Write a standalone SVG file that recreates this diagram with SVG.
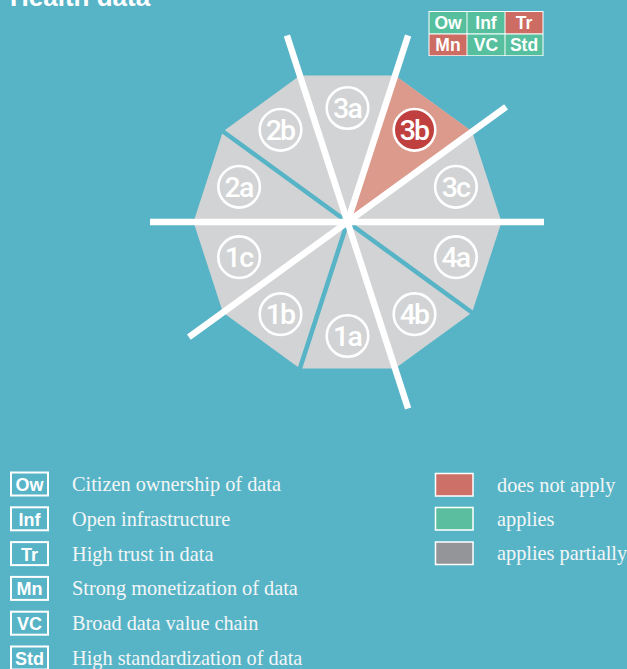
<svg xmlns="http://www.w3.org/2000/svg" width="627" height="669" viewBox="0 0 627 669">
<style>
.title{font-family:"Liberation Sans",Arial,sans-serif;font-weight:bold;font-size:26px;fill:#fff}
.lbl{font-family:Roboto,"Liberation Sans",sans-serif;font-weight:500;font-size:28.5px;fill:#fff;text-anchor:middle;letter-spacing:-1.8px}
.ring{fill:none;stroke:#fff;stroke-width:2.6}
.code{font-family:"Liberation Sans",Arial,sans-serif;font-weight:bold;font-size:17.5px;fill:#fff;text-anchor:middle}
.code2{font-family:"Liberation Sans",Arial,sans-serif;font-weight:bold;font-size:18px;fill:#fff;text-anchor:middle}
.desc{font-family:"Liberation Serif","Times New Roman",serif;font-size:20.3px;fill:#f4f6f6}
.kbox{fill:none;stroke:#fff;stroke-width:2}
.sw{stroke:#fff;stroke-width:1.5}
.wl{stroke:#fff;stroke-width:6.5;fill:none}
.gap{stroke:#57b4c7;stroke-width:4.5;fill:none}
</style>
<rect x="0" y="0" width="627" height="669" fill="#57b4c7"/>
<text class="title" x="10" y="6">Health data</text>

<g id="summary">
<rect x="428.5" y="11" width="115" height="45" fill="#fff"/>
<rect x="429.5" y="12" width="37" height="21.3" fill="#55bf9e"/>
<rect x="467.5" y="12" width="37" height="21.3" fill="#55bf9e"/>
<rect x="505.5" y="12" width="37" height="21.3" fill="#cd6c63"/>
<rect x="429.5" y="34.5" width="37" height="20.8" fill="#cd6c63"/>
<rect x="467.5" y="34.5" width="37" height="20.8" fill="#55bf9e"/>
<rect x="505.5" y="34.5" width="37" height="20.8" fill="#55bf9e"/>
<text class="code" x="448" y="28.5">Ow</text>
<text class="code" x="486" y="28.5">Inf</text>
<text class="code" x="524" y="28.5">Tr</text>
<text class="code" x="448" y="51.3">Mn</text>
<text class="code" x="486" y="51.3">VC</text>
<text class="code" x="524" y="51.3">Std</text>
</g>

<g id="wheel">
<polygon points="501.5,222 472.09,131.48 395.09,75.54 299.91,75.54 222.91,131.48 193.5,222 222.91,312.52 299.91,368.46 395.09,368.46 472.09,312.52" fill="#d1d3d4"/>
<polygon id="wedge-3b" points="347.5,222 472.09,131.48 395.09,75.54" fill="#dc9a8c"/>
</g>

<g id="connectors">
<line class="gap" x1="347.5" y1="222" x2="221.3" y2="130.3"/>
<line class="gap" x1="347.5" y1="222" x2="299.3" y2="370.3"/>
<line class="gap" x1="347.5" y1="222" x2="473.7" y2="313.7"/>
<line class="wl" x1="150" y1="222" x2="544" y2="222"/>
<line class="wl" x1="188.9" y1="337.2" x2="506.1" y2="106.8"/>
<line class="wl" x1="286.9" y1="35.6" x2="408.1" y2="408.4"/>
<line class="wl" x1="347.5" y1="222" x2="408.1" y2="35.6"/>
</g>

<g id="n3c"><circle class="ring" cx="455.9" cy="186.8" r="20.8"/><text class="lbl" x="455.4" y="196.5">3c</text></g>
<g id="n3b"><circle cx="414.5" cy="129.8" r="20.8" fill="#bf403e" stroke="#fff" stroke-width="2.6"/><text class="lbl" x="414" y="139.5">3b</text></g>
<g id="n3a"><circle class="ring" cx="347.5" cy="108" r="20.8"/><text class="lbl" x="347" y="117.5">3a</text></g>
<g id="n2b"><circle class="ring" cx="280.5" cy="129.8" r="20.8"/><text class="lbl" x="280" y="139.5">2b</text></g>
<g id="n2a"><circle class="ring" cx="239.1" cy="186.8" r="20.8"/><text class="lbl" x="238.6" y="196.5">2a</text></g>
<g id="n1c"><circle class="ring" cx="239.1" cy="257.2" r="20.8"/><text class="lbl" x="238.6" y="266.9">1c</text></g>
<g id="n1b"><circle class="ring" cx="280.5" cy="314.2" r="20.8"/><text class="lbl" x="280" y="323.9">1b</text></g>
<g id="n1a"><circle class="ring" cx="347.5" cy="336" r="20.8"/><text class="lbl" x="347" y="345.7">1a</text></g>
<g id="n4b"><circle class="ring" cx="414.5" cy="314.2" r="20.8"/><text class="lbl" x="414" y="323.9">4b</text></g>
<g id="n4a"><circle class="ring" cx="455.9" cy="257.2" r="20.8"/><text class="lbl" x="455.4" y="266.9">4a</text></g>

<g id="legend-criteria">
<rect class="kbox" x="11" y="472.5" width="37" height="23"/><text class="code2" x="29.5" y="491">Ow</text><text class="desc" x="72" y="491">Citizen ownership of data</text>
<rect class="kbox" x="11" y="507.3" width="37" height="23"/><text class="code2" x="29.5" y="525.8">Inf</text><text class="desc" x="72" y="525.8">Open infrastructure</text>
<rect class="kbox" x="11" y="542.1" width="37" height="23"/><text class="code2" x="29.5" y="560.6">Tr</text><text class="desc" x="72" y="560.6">High trust in data</text>
<rect class="kbox" x="11" y="576.9" width="37" height="23"/><text class="code2" x="29.5" y="595.4">Mn</text><text class="desc" x="72" y="595.4">Strong monetization of data</text>
<rect class="kbox" x="11" y="611.7" width="37" height="23"/><text class="code2" x="29.5" y="630.2">VC</text><text class="desc" x="72" y="630.2">Broad data value chain</text>
<rect class="kbox" x="11" y="646.5" width="37" height="23"/><text class="code2" x="29.5" y="665">Std</text><text class="desc" x="72" y="665">High standardization of data</text>
</g>

<g id="legend-colors">
<rect class="sw" x="435.5" y="473.5" width="37.5" height="22.5" fill="#cc7068"/><text class="desc" x="497" y="491.5">does not apply</text>
<rect class="sw" x="435.5" y="507.5" width="37.5" height="22.5" fill="#5bbf9f"/><text class="desc" x="497" y="525.8">applies</text>
<rect class="sw" x="435.5" y="542" width="37.5" height="22.5" fill="#939598"/><text class="desc" x="497" y="560">applies partially</text>
</g>
</svg>
